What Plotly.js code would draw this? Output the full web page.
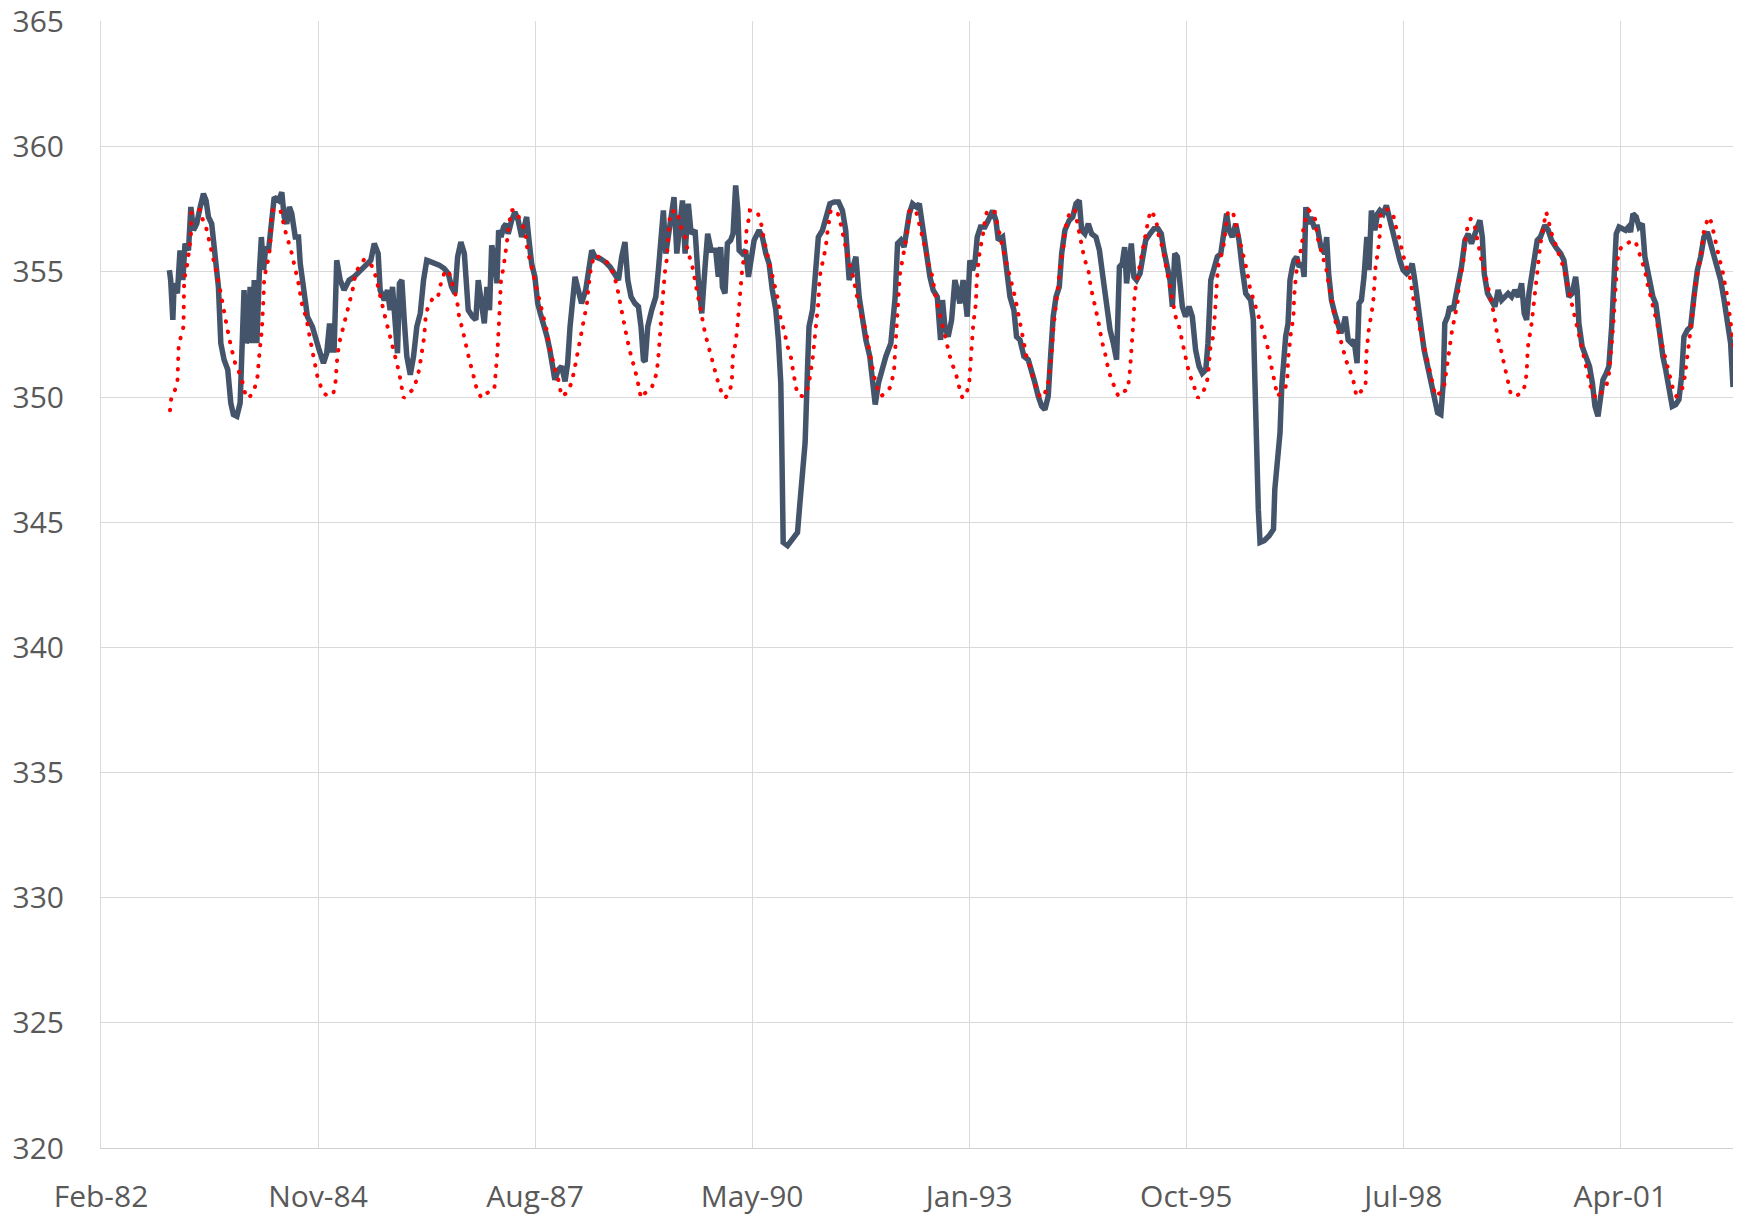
<!DOCTYPE html>
<html>
<head>
<meta charset="utf-8">
<script src="https://cdn.plot.ly/plotly-3.0.1.min.js"></script>
<style>
  html, body { margin: 0; padding: 0; background: #ffffff; }
  #chart { width: 1743px; height: 1216px; }
</style>
</head>
<body>
<div id="chart"></div>
<script>
// Excel serial day numbers (dates) and values
const observedSerial = [
30315,30321,30331,30337,30352,30364,30377,30387,30403,30414,30426,30441,30457,30472,30484,30495,30510,30526,30541,30552,30567,30584,30598,30610,30626,30641,30653,30659,30669,30678,30687,30696,30706,30718,30730,30739,30749,30759,30772,30787,30798,30818,30833,30844,30856,30868,30879,30895,30910,30918,
30936,30951,30974,30990,31005,31025,31040,31053,31062,31074,31086,31102,31120,31143,31166,31197,31228,31243,31259,31277,31286,31305,31320,31332,31343,31354,31366,31375,31386,31397,31409,31425,31440,31455,31471,31486,31501,31520,31543,31558,31581,31600,31615,31631,31643,31658,31674,31684,31692,31712,31727,31738,31750,31766,31778,31790,31800,31812,31824,31832,31843,31855,31866,
31876,31892,31907,31922,31938,31950,31961,31972,31984,31999,32012,32024,32039,32055,32068,32081,32091,32107,32122,32138,32150,32161,32173,32184,32199,32214,32233,32248,32261,32276,32299,32322,32345,32365,32384,32399,32414,32427,32442,32460,32476,32488,32499,32507,32519,32537,32556,32568,32580,32591,32602,32614,32629,32640,32653,32668,32679,32691,32706,32719,32737,32752,32768,32783,32795,32811,
32817,32832,32844,32855,32863,32875,32886,32901,32912,32924,32934,32940,32955,32970,32983,32994,33009,33032,33047,33063,33078,33093,33109,33121,33132,33136,33140,33143,33163,33186,33209,33219,33232,33244,33255,33262,33278,33293,33305,33324,33339,33358,33378,33398,33416,33431,33447,33462,33478,33493,33508,33524,33542,33555,33567,33582,33601,33616,33639,33659,33670,33685,33700,33711,33724,33739,
33757,33770,33785,33800,33819,33834,33853,33868,33877,33888,33903,33919,33934,33945,33957,33972,33991,34003,34015,34026,34037,34052,34072,34088,34108,34123,34134,34154,34172,34188,34206,34218,34234,34252,34272,34288,34303,34318,34334,34349,34364,34375,34387,34400,34415,34426,34441,34461,34477,34492,34507,34518,34533,34549,34564,34584,34600,34618,34633,34649,34664,34679,34692,
34705,34716,34725,34736,34747,34759,34771,34787,34798,34813,34833,34851,34870,34885,34897,34913,34925,34936,34947,34959,34971,34982,34997,35013,35028,35043,35059,35074,35090,35100,35113,35128,35143,35159,35174,35186,35197,35212,35228,35243,35259,35274,35297,35309,35317,35322,35328,35332,35340,35359,35382,35402,35408,35423,35432,35440,35448,35458,35469,35478,35489,35497,35509,35520,35535,35543,35551,35561,35574,35589,35604,35620,
35638,35647,35656,35669,35684,35700,35712,35723,35733,35746,35761,35773,35787,35796,35807,35819,35832,35842,35853,35869,35881,35892,35907,35922,35938,35953,35969,35984,35999,36015,36030,36041,36053,36065,36081,36096,36115,36130,36145,36158,36173,36184,36191,36204,36214,36230,36241,36253,36268,36284,36299,36314,36330,36342,36353,36364,36373,36388,36403,36422,36437,36453,36468,36483,36499,36514,36530,36545,36557,36568,
36579,36591,36606,36617,36632,36652,36668,36683,36702,36725,36740,36751,36763,36778,36794,36801,36809,36824,36843,36858,36871,36883,36897,36909,36920,36935,36947,36960,36970,36981,36994,37009,37024,37037,37047,37058,37073,37086,37101,37113,37124,37135,37150,37163,37175,37186,37196,37209,37224,37239,37255,37270,37282,37293,37309,37324,37339,37355,37370,37385,37401,37416,37432,37447,37462,37478,37493,37508,37519
];
const observedValues = [
355.07,354.67,353.08,354.54,354.14,355.86,354.67,356.13,355.86,357.59,356.66,356.92,357.59,358.12,357.85,357.19,356.92,355.46,354.40,352.15,351.49,351.09,349.76,349.30,349.23,349.76,352.41,354.27,352.15,352.41,354.40,352.15,354.67,352.15,355.07,356.39,355.07,355.99,355.86,357.19,357.98,357.85,358.18,357.19,356.92,357.59,357.32,356.39,356.39,355.33,
354.00,353.21,352.81,352.28,351.88,351.35,351.75,352.94,351.88,351.88,355.46,354.67,354.27,354.67,354.80,355.07,355.33,355.46,356.13,355.73,354.27,353.87,354.27,353.47,354.40,352.81,351.75,354.54,354.67,353.08,351.62,350.89,351.62,352.81,353.34,354.67,355.46,355.40,355.33,355.27,355.13,354.93,354.40,354.14,355.60,356.19,355.73,354.67,353.47,353.21,353.08,354.67,353.74,352.94,354.40,353.47,356.06,355.60,354.54,356.66,356.39,356.79,356.92,
356.52,357.06,357.39,357.06,356.39,356.79,357.19,356.26,355.33,354.80,353.74,353.34,352.94,352.41,351.88,351.35,350.69,351.09,351.22,350.62,351.35,352.81,354.00,354.80,354.27,353.74,354.27,355.20,355.86,355.60,355.53,355.40,355.20,354.93,354.67,355.60,356.19,354.67,354.00,353.74,353.61,352.81,351.49,351.42,352.81,353.47,354.00,355.07,356.39,357.45,355.73,356.39,357.19,357.98,355.73,357.32,357.85,355.73,357.72,356.52,356.66,354.67,353.34,355.20,356.52,355.86,
355.86,355.86,354.80,355.99,354.40,354.14,356.13,356.26,356.52,358.45,357.45,355.86,355.73,355.86,354.80,355.60,356.26,356.66,356.39,355.73,355.33,354.27,353.47,352.28,350.56,348.43,345.78,344.19,344.06,344.32,344.59,345.65,346.84,348.17,351.09,352.81,353.47,355.33,356.39,356.66,357.19,357.72,357.79,357.79,357.45,356.66,354.67,355.07,355.60,354.00,353.08,352.28,351.62,350.56,349.70,350.56,351.22,351.62,352.15,354.00,356.13,356.26,355.99,356.52,357.32,357.72,
357.59,357.72,356.79,355.60,354.80,354.27,354.00,352.28,353.87,352.81,352.41,353.08,354.67,354.27,353.74,354.67,353.21,355.46,355.07,355.33,356.39,356.79,356.79,357.06,357.45,357.06,356.26,356.39,355.07,354.00,353.47,352.41,352.28,351.62,351.49,351.09,350.56,350.03,349.63,349.50,350.03,351.62,353.21,354.00,354.40,355.73,356.66,357.06,357.19,357.72,357.85,356.66,356.52,356.92,356.52,356.39,355.86,354.67,353.47,352.68,352.15,351.49,355.20,
355.33,355.99,354.54,355.33,356.13,354.80,354.67,354.93,355.60,356.26,356.52,356.72,356.72,356.52,355.86,355.07,354.67,353.61,355.73,355.60,354.54,353.61,353.21,353.61,353.21,351.88,351.22,350.95,351.09,352.15,354.67,355.20,355.60,355.73,356.66,357.32,356.66,356.39,356.92,356.26,355.07,354.14,353.87,353.08,350.42,348.43,347.37,345.52,344.19,344.26,344.46,344.72,346.31,347.51,348.57,350.42,351.62,352.41,352.94,354.67,355.20,355.46,355.60,355.20,355.33,354.80,357.59,356.92,357.19,356.79,356.79,355.99,
355.73,356.39,354.93,353.87,353.34,352.94,352.55,352.81,353.21,352.28,352.15,352.28,351.35,353.74,353.87,354.80,356.39,355.07,357.45,356.66,357.32,357.45,357.32,357.65,357.06,356.39,355.86,355.46,355.07,354.93,355.07,355.33,354.67,353.74,352.81,351.88,351.09,350.42,349.90,349.37,349.30,350.56,352.94,353.21,353.61,353.47,354.00,354.54,355.20,356.26,356.52,356.13,356.52,356.92,357.06,356.39,354.93,354.14,353.87,353.61,354.27,353.87,354.00,354.14,354.00,354.27,354.00,354.54,353.34,353.08,
354.14,354.80,355.86,356.26,356.39,356.86,356.66,356.26,355.99,355.73,355.46,354.54,354.00,354.14,354.80,354.27,352.94,352.02,351.62,351.22,350.56,349.63,349.23,350.16,350.69,350.95,351.22,352.81,354.54,356.52,356.79,356.72,356.66,356.79,356.59,357.32,357.19,356.79,356.92,355.60,355.07,354.54,354.00,353.74,352.94,352.15,351.62,351.09,350.29,349.63,349.70,349.90,350.82,352.41,352.68,352.81,354.00,355.07,355.60,356.39,356.59,356.13,355.73,355.33,354.67,353.87,353.08,352.15,350.40
];

const modelSerial = [
30318,30323,30337,30352,30358,30380,30383,30398,30414,30417,30457,30464,30484,30495,30518,30533,30549,30564,30580,30599,30618,30638,30653,30669,30687,30706,30721,30730,30741,30749,30752,30764,30776,30782,30787,30825,30841,30856,30872,30890,30910,30925,
30936,30948,30964,30979,30997,31020,31043,31071,31082,31086,31097,31113,31128,31143,31159,31174,31197,31212,31231,31251,31266,31282,31297,31312,31328,31343,31359,31374,31394,31420,31443,31466,31477,31489,31497,31508,31528,31551,31566,31581,31600,31615,31627,31640,31650,31666,31681,31697,31717,31732,31753,31778,31812,31820,31827,31835,31843,31855,31866,31876,
31889,31904,31922,31938,31953,31965,31976,31992,32007,32018,32030,32042,32053,32064,32076,32092,32107,32122,32145,32168,32184,32199,32214,32227,32239,32248,32258,32273,32291,32314,32337,32361,32376,32391,32407,32422,32437,32453,32468,32488,32507,32537,32560,32568,32576,32583,32591,32599,32606,32614,32617,32622,32653,32663,32676,32691,32706,32722,32737,32752,32768,32783,32799,32814,
32832,32844,32860,32875,32894,32906,32912,32924,32932,32940,32947,32955,32970,32974,32983,32989,33024,33040,33055,33070,33086,33101,33116,33132,33147,33163,33178,33193,33209,33232,33250,33262,33270,33278,33286,33293,33301,33306,33309,33316,33327,33339,33347,33355,33362,33393,33408,33424,33435,33447,33462,33478,33493,33508,33524,33539,33555,33570,33593,33616,33639,33654,33659,33665,33674,33681,33693,33701,33711,33721,33724,33754,
33770,33785,33800,33816,33831,33842,33853,33868,33880,33896,33911,33926,33942,33957,33969,33988,34000,34006,34011,34019,34031,34034,34042,34049,34062,34072,34083,34118,34126,34142,34157,34169,34185,34195,34211,34226,34237,34249,34264,34280,34295,34311,34329,34349,34364,34372,34380,34387,34395,34403,34415,34421,34434,34441,34457,34464,34487,34498,34510,34523,34533,34549,34560,34572,34587,34600,34610,34626,34641,34656,34672,34687,
34713,34731,34741,34747,34756,34759,34762,34771,34782,34793,34805,34818,34828,34839,34851,34864,34874,34890,34905,34921,34940,34951,34967,34977,34997,35013,35028,35043,35054,35074,35090,35100,35105,35113,35125,35131,35136,35140,35146,35159,35171,35177,35186,35193,35217,35228,35236,35251,35266,35279,35294,35312,35328,35343,35359,35374,35386,35397,35408,35420,35435,35458,35466,35469,35474,35482,35494,35497,35505,35512,35525,35535,35540,35551,35566,35581,35592,35604,35620,35635,
35646,35653,35666,35676,35692,35707,35723,35738,35753,35769,35784,35804,35826,35830,35841,35861,35866,35872,35884,35892,35896,35922,35953,35961,35976,35992,36007,36030,36038,36050,36065,36076,36091,36107,36122,36133,36148,36168,36188,36199,36207,36214,36225,36237,36250,36256,36268,36276,36280,36287,36296,36311,36327,36337,36348,36360,36373,36388,36399,36414,36425,36434,36450,36460,36471,36480,36496,36522,36552,36563,36569,36573,
36579,36586,36594,36602,36609,36617,36625,36632,36640,36648,36658,36668,36678,36689,36705,36720,36732,36745,36755,36771,36786,36801,36812,36824,36837,36848,36863,36886,36904,36920,36935,36947,36955,36963,36970,36975,36978,36986,36997,37009,37027,37047,37063,37073,37083,37098,37113,37124,37140,37150,37163,37178,37193,37209,37221,37236,37247,37258,37278,37293,37301,37309,37319,37329,37339,37347,37359,37370,37378,37385,37401,37412,37424,37436,37447,37458,37470,37482,37493,37501,37508,37516,37524
];
const modelValues = [
349.47,349.90,350.19,350.56,352.08,352.81,354.67,355.33,356.39,357.45,357.48,357.19,356.79,356.39,355.60,354.93,354.27,353.47,352.81,352.02,351.35,350.95,350.56,349.96,350.03,350.29,350.82,351.75,352.68,354.00,354.80,355.20,355.80,356.39,357.45,357.52,356.92,356.39,355.99,355.33,354.54,353.74,
353.47,353.08,352.28,351.62,350.82,350.23,350.03,350.16,350.69,351.35,352.15,352.68,353.21,353.74,354.27,355.00,355.27,355.49,355.40,355.20,354.80,354.14,353.61,353.08,352.55,352.08,351.49,350.95,349.96,350.16,350.36,351.09,351.62,352.41,353.34,353.61,353.94,353.94,354.54,354.93,355.07,354.67,354.27,353.87,353.21,352.68,352.02,351.49,350.82,350.29,349.96,350.16,350.29,351.09,351.88,353.21,354.67,355.20,355.99,356.79,
357.45,357.48,357.25,356.92,356.66,355.86,355.46,354.93,354.40,354.00,353.47,353.14,352.68,352.08,351.62,351.09,350.69,350.03,350.16,350.56,351.22,351.88,352.55,353.21,353.74,354.54,355.20,355.66,355.62,355.53,355.33,354.93,354.47,353.74,353.08,352.41,351.82,351.35,350.82,349.96,350.16,350.36,350.95,351.62,352.68,353.47,354.27,355.07,355.46,356.39,357.06,357.39,357.45,357.06,356.66,356.39,355.73,355.33,354.67,353.87,353.21,352.55,352.02,351.49,
350.95,350.56,350.16,349.96,350.16,350.56,351.75,352.15,352.81,353.61,354.54,355.20,355.86,356.66,357.06,357.45,357.39,356.99,356.26,355.73,355.20,354.54,354.00,353.08,352.68,352.02,351.62,350.82,350.09,350.03,350.16,350.56,350.95,351.49,352.15,352.68,353.21,353.87,354.54,355.07,355.46,355.99,356.59,357.06,357.45,357.39,356.92,356.26,355.73,355.33,354.93,354.14,353.61,353.08,352.68,351.88,351.22,350.49,350.03,350.16,350.42,351.09,351.88,352.94,354.00,354.93,355.46,355.86,356.39,356.92,357.45,357.45,
356.92,356.39,355.86,355.20,354.80,354.14,353.74,353.21,352.68,352.02,351.62,351.22,350.82,350.29,349.96,350.16,350.56,351.35,352.15,352.94,353.74,354.54,355.33,355.86,356.39,357.06,357.45,357.39,357.06,356.39,355.86,355.46,354.93,354.54,354.00,353.34,352.81,352.28,351.62,351.22,350.69,350.29,349.96,350.16,350.56,351.09,351.75,352.68,353.34,354.00,354.67,355.33,355.99,356.66,357.19,357.45,357.45,356.92,356.39,355.86,355.46,355.07,354.40,354.00,353.34,352.81,352.28,351.75,351.09,350.69,350.29,350.03,
350.23,350.29,351.09,351.88,352.55,353.34,354.14,354.67,355.07,355.60,356.13,356.79,357.19,357.45,357.25,356.92,356.39,355.99,355.33,354.67,353.74,353.21,352.81,352.41,351.75,350.95,350.62,350.29,349.96,350.16,350.42,350.82,351.49,352.15,352.41,353.34,354.00,354.67,355.20,355.60,355.99,356.39,357.06,357.45,357.32,356.92,356.52,356.13,355.46,355.07,354.34,353.87,353.34,352.94,352.48,352.02,351.49,351.09,350.56,350.03,350.16,350.42,350.82,351.49,352.02,352.55,353.21,354.00,354.80,355.33,355.73,356.26,356.79,357.19,357.45,357.32,357.19,356.39,355.86,355.46,
355.07,354.67,354.00,353.47,352.81,352.41,351.82,351.42,351.09,350.69,350.03,350.19,350.42,351.75,352.68,353.74,354.67,355.20,355.86,356.52,357.32,357.52,357.32,356.92,356.52,355.86,355.40,354.80,354.27,353.74,353.21,352.68,352.15,351.62,351.09,350.69,350.03,350.16,350.42,351.09,351.62,352.15,352.68,353.21,353.74,354.54,354.93,355.33,355.73,356.39,356.79,357.12,356.92,356.46,355.86,355.46,355.07,354.54,354.00,353.47,352.94,352.41,351.88,351.49,351.09,350.69,350.09,350.05,350.23,350.56,351.09,351.88,
352.40,352.55,353.21,353.74,354.54,355.07,355.60,356.13,356.52,356.92,357.39,357.12,356.66,356.39,355.99,355.73,355.33,354.93,354.54,354.00,353.34,352.81,352.41,351.88,351.49,351.09,350.42,349.96,350.03,350.29,350.42,350.89,351.49,352.41,353.21,354.00,354.80,355.46,355.86,356.06,356.13,356.19,356.26,356.13,355.80,355.46,355.07,354.54,354.00,353.61,353.21,352.55,352.02,351.49,351.09,350.56,350.16,350.03,350.16,350.56,351.09,351.75,352.28,352.94,353.74,354.54,355.07,355.60,356.13,356.66,357.06,357.19,356.79,356.26,355.86,355.46,355.07,354.54,354.00,353.47,352.94,352.41,351.88
];

const axisStartSerial = 30000;
const axisEndSerial = 37519;
const tickSerials = [30000, 31000, 32000, 33000, 34000, 35000, 36000, 37000];
const tickLabels = ['Feb-82', 'Nov-84', 'Aug-87', 'May-90', 'Jan-93', 'Oct-95', 'Jul-98', 'Apr-01'];
const yTickValues = [320, 325, 330, 335, 340, 345, 350, 355, 360, 365];

function serialToDate(s) {
  return new Date(Date.UTC(1899, 11, 30) + s * 86400000).toISOString().slice(0, 10);
}

const traces = [
  {
    x: observedSerial.map(serialToDate),
    y: observedValues,
    type: 'scatter',
    mode: 'lines',
    line: { color: '#44546A', width: 5.5 },
    hoverinfo: 'skip'
  },
  {
    x: modelSerial.map(serialToDate),
    y: modelValues,
    type: 'scatter',
    mode: 'lines',
    line: { color: '#FF0000', width: 4, dash: '4px,6px' },
    hoverinfo: 'skip'
  }
];

const tickFont = { family: 'Open Sans, Noto Sans, sans-serif', size: 30, color: '#595959' };

const layout = {
  width: 1743,
  height: 1216,
  margin: { l: 101, r: 10, t: 21, b: 68 },
  paper_bgcolor: '#ffffff',
  plot_bgcolor: '#ffffff',
  showlegend: false,
  xaxis: {
    type: 'date',
    range: [serialToDate(axisStartSerial), serialToDate(axisEndSerial)],
    tickmode: 'array',
    tickvals: tickSerials.map(serialToDate),
    ticktext: tickLabels,
    showgrid: true,
    gridcolor: '#d9d9d9',
    gridwidth: 1,
    showline: true,
    linecolor: '#d0d0d0',
    linewidth: 1,
    ticks: '',
    tickfont: tickFont,
    ticklabelstandoff: 22,
    zeroline: false
  },
  yaxis: {
    range: [320, 365.02],
    tickmode: 'array',
    tickvals: yTickValues,
    ticktext: yTickValues.map(String),
    showgrid: true,
    gridcolor: '#d9d9d9',
    gridwidth: 1,
    showline: true,
    linecolor: '#d9d9d9',
    linewidth: 1,
    ticks: '',
    tickfont: tickFont,
    ticklabelstandoff: 30,
    zeroline: false
  }
};

Plotly.newPlot('chart', traces, layout, { staticPlot: true, displayModeBar: false }).then(function (gd) {
  const lines = gd.querySelectorAll('.scatterlayer .trace path.js-line');
  if (lines.length > 1) {
    const p = lines[1];
    p.style.strokeLinecap = 'round';
    p.style.strokeDasharray = '0.5px,10px';
  }
});
</script>
</body>
</html>
